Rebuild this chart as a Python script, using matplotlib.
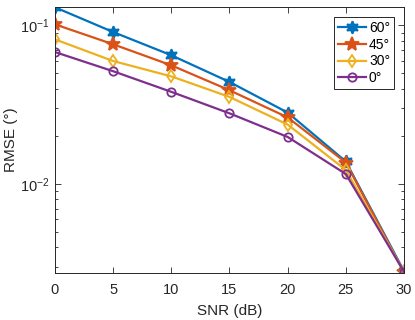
import numpy as np
import matplotlib.pyplot as plt

# Datos
snr = [0, 5, 10, 15, 20, 25, 30]
rmse_60 = [0.130, 0.0908, 0.0648, 0.0440, 0.0282, 0.01387, 0.00282]
rmse_45 = [0.1015, 0.0760, 0.0560, 0.0390, 0.0263, 0.01366, 0.00277]
rmse_30 = [0.0816, 0.0596, 0.0477, 0.0354, 0.0237, 0.01225, 0.00280]
rmse_0 = [0.0679, 0.0514, 0.0381, 0.0279, 0.0198, 0.01156, 0.00280]
labels = ['60°', '45°', '30°', '0°']

plt.rcParams['font.family'] = ['Liberation Sans', 'DejaVu Sans']
plt.rcParams['mathtext.fontset'] = 'custom'
plt.rcParams['mathtext.rm'] = 'Liberation Sans'

fig = plt.figure(figsize=(4.15, 3.2), dpi=100)
ax = fig.add_axes([0.1325, 0.147, 0.841, 0.831])

colores = ['#0072BD', '#D95319', '#EDB120', '#7E2F8E']
marcadores = [(6, 1, 0), '*', 'd', 'o']
tamanos = [9, 10, 6, 6]
series = [rmse_60, rmse_45, rmse_30, rmse_0]

for y, c, m, s, lab in zip(series, colores, marcadores, tamanos, labels):
    ax.plot(snr, y, color=c, marker=m, markersize=s, linewidth=1.6,
            markeredgewidth=1.3, markerfacecolor=c if m != 'o' and m != 'd' else 'none',
            label=lab)

ax.set_yscale('log')
ax.set_xlim(0, 30)
ax.set_ylim(0.00275, 0.1305)
ax.set_xticks([0, 5, 10, 15, 20, 25, 30])
ax.tick_params(which='both', direction='in', top=True, right=True,
               labelsize=10.5, colors='#262626', width=0.6)
ax.tick_params(axis='x', pad=7)
ax.tick_params(axis='y', pad=4)
ax.tick_params(which='major', length=4)
ax.tick_params(which='minor', length=2.5)
for sp in ax.spines.values():
    sp.set_color('#262626')
    sp.set_linewidth(0.7)

ax.set_xlabel('SNR (dB)', fontsize=11, color='#262626', labelpad=5)
ax.set_ylabel('RMSE (°)', fontsize=11, color='#262626', labelpad=1)

leg = ax.legend(loc='upper right', fontsize=10, fancybox=False, framealpha=1,
                handlelength=2.0, borderpad=0.3, labelspacing=0.2,
                handletextpad=0.2, borderaxespad=0.7)
leg.get_frame().set_edgecolor('#262626')
leg.get_frame().set_linewidth(0.7)

fig.savefig('out.png', dpi=100)
